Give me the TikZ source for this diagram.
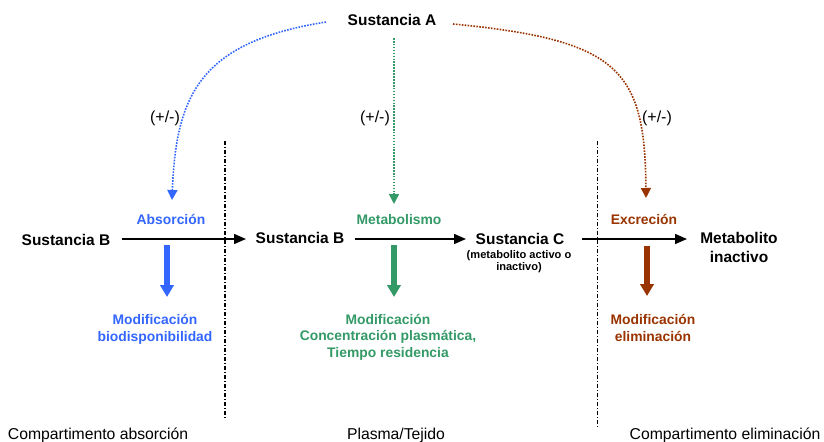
\documentclass[tikz,border=0pt]{standalone}
\usepackage{fontspec}
\setmainfont{Liberation Sans}
\usetikzlibrary{arrows.meta}
\definecolor{cblue}{HTML}{3366FF}
\definecolor{cgreen}{HTML}{339966}
\definecolor{cbrown}{HTML}{993300}
\begin{document}
\begin{tikzpicture}[x=0.75pt,y=-0.75pt,
  lbl/.style={font=\bfseries\fontsize{11.6}{14}\selectfont, inner sep=0pt, anchor=base, align=center},
  clbl/.style={font=\bfseries\fontsize{10.4}{12.5}\selectfont, inner sep=0pt, anchor=base, align=center},
  smallbl/.style={font=\bfseries\fontsize{8.3}{9}\selectfont, inner sep=0pt, anchor=base, align=center},
  bottomlbl/.style={font=\fontsize{11.8}{14}\selectfont, inner sep=0pt, anchor=base},
  pmlbl/.style={font=\fontsize{12}{14}\selectfont, inner sep=0pt, anchor=base},
  dotline/.style={line width=1.2pt, dash pattern=on 1.2pt off 1pt, -{Triangle[width=7.5pt,length=7.5pt]}},
  flow/.style={line width=1.1pt, -{Triangle[width=7.5pt,length=9pt]}},
  thick arrow/.style={line width=4.5pt, -{Triangle[width=10pt,length=9pt]}},
  divider/.style={line width=0.9pt, dash pattern=on 3pt off 1.5pt on 0.75pt off 1.5pt}
]
\useasboundingbox (0,0) rectangle (824,442);

% main labels
\node[lbl] (sa) at (392,26) {Sustancia A};
\node[lbl] (sb1) at (66,245) {Sustancia B};
\node[lbl] (sb2) at (300,243.5) {Sustancia B};
\node[lbl] (sc) at (520,244) {Sustancia C};
\node[smallbl] (scsub) at (519,270) {(metabolito activo o\\inactivo)};
\node[lbl] (mi) at (739,262) {Metabolito\\inactivo};

% process labels
\node[clbl, text=cblue] (abs) at (171,224) {Absorción};
\node[clbl, text=cgreen] (met) at (399,224) {Metabolismo};
\node[clbl, text=cbrown] (exc) at (644,224) {Excreción};

\node[clbl, text=cblue] (mod1) at (155,341) {Modificación\\biodisponibilidad};
\node[clbl, text=cgreen, font=\bfseries\fontsize{10.4}{12.2}\selectfont] (mod2) at (388,357) {Modificación\\Concentración plasmática,\\Tiempo residencia};
\node[clbl, text=cbrown] (mod3) at (653,341) {Modificación\\eliminación};

% (+/-)
\node[pmlbl] (pm1) at (165,123) {(+/-)};
\node[pmlbl] (pm2) at (375,123) {(+/-)};
\node[pmlbl] (pm3) at (657,123) {(+/-)};

% bottom labels
\node[bottomlbl] (c1) at (98,439.5) {Compartimento absorción};
\node[bottomlbl] (c2) at (396,439.5) {Plasma/Tejido};
\node[bottomlbl] (c3) at (725,439.5) {Compartimento eliminación};

% coordinates
\coordinate (aL) at (326,22);
\coordinate (aM) at (394,38);
\coordinate (aR) at (453,24);
\coordinate (tL) at (172,200);
\coordinate (tM) at (394,204);
\coordinate (tR) at (646,198);

\coordinate (f1s) at (122,239);
\coordinate (f1e) at (246,239);
\coordinate (f2s) at (355,239);
\coordinate (f2e) at (466,239);
\coordinate (f3s) at (582,239);
\coordinate (f3e) at (687,239);

\coordinate (b1s) at (167,245);
\coordinate (b1e) at (167,297);
\coordinate (b2s) at (394,245);
\coordinate (b2e) at (394,297);
\coordinate (b3s) at (647,246);
\coordinate (b3e) at (647,296);

\coordinate (d1s) at (225,141);
\coordinate (d1e) at (225,418);
\coordinate (d2s) at (597.5,141);
\coordinate (d2e) at (597.5,428);

% dotted influence arrows
\draw[dotline, cblue] (aL) .. controls (200,42) and (176,95) .. (tL);
\draw[dotline, cgreen] (aM) -- (tM);
\draw[dotline, cbrown] (aR) .. controls (620,40) and (645,70) .. (tR);

% dividers
\draw[divider] (d1s) -- (d1e);
\draw[divider] (d2s) -- (d2e);

% flow arrows
\draw[flow] (f1s) -- (f1e);
\draw[flow] (f2s) -- (f2e);
\draw[flow] (f3s) -- (f3e);

% thick arrows
\draw[thick arrow, cblue] (b1s) -- (b1e);
\draw[thick arrow, cgreen] (b2s) -- (b2e);
\draw[thick arrow, cbrown] (b3s) -- (b3e);
\end{tikzpicture}
\end{document}
